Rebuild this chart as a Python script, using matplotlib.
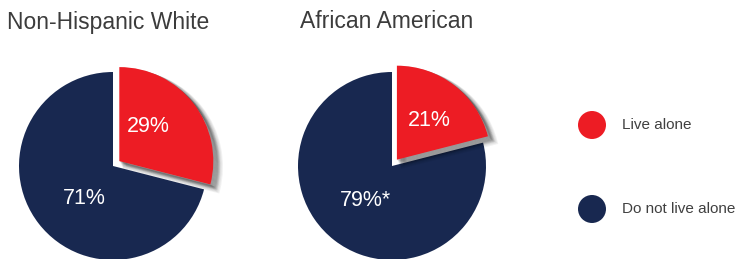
import matplotlib
matplotlib.use('Agg')
from matplotlib import pyplot as plt
from matplotlib.patches import Shadow, Circle

groups = ['Non-Hispanic White', 'African American']
live_alone = [29, 21]
not_alone = [71, 79]
pct_labels = [['29%', '71%'], ['21%', '79%*']]
legend_labels = ['Live alone', 'Do not live alone']

RED = '#ED1C24'
NAVY = '#182850'
W, H = 737, 259

fig = plt.figure(figsize=(W / 100, H / 100), dpi=100)
ax = fig.add_axes([0, 0, 1, 1])

centers = [(113, H - 166), (392, H - 166)]
radius = 94
# label offsets (dx, dy) from the pie centre, pixels
lab_off = [[(35, 40), (-29, -33)], [(37, 45), (-27, -34)]]

for i, g in enumerate(groups):
    cx, cy = centers[i]
    wedges, _ = ax.pie([live_alone[i], not_alone[i]], colors=[RED, NAVY],
                       startangle=90, counterclock=False, explode=[8, 0],
                       center=(cx, cy), radius=radius, frame=True,
                       wedgeprops=dict(linewidth=0))
    wedges[0].set_zorder(3)
    wedges[1].set_zorder(1)
    # soft shadow under the red slice (stacked, offset copies)
    for k in range(1, 10):
        sh = Shadow(wedges[0], 0.55 * k, -0.45 * k, facecolor='black',
                    edgecolor='black', linewidth=0.45 * k, alpha=0.05, zorder=2)
        ax.add_patch(sh)
    for j in range(2):
        dx, dy = lab_off[i][j]
        ax.text(cx + dx, cy + dy, pct_labels[i][j], color='white', fontsize=15.5,
                ha='center', va='center', family='Liberation Sans')
    ax.text([7, 300][i], H - 22, g, color='#3c3c3c', fontsize=16.5,
            ha='left', va='center', family='Liberation Sans')

ax.set_xlim(0, W)
ax.set_ylim(0, H)
ax.set_aspect('equal')
ax.axis('off')

for j, (lab, col) in enumerate(zip(legend_labels, [RED, NAVY])):
    y = H - [125, 209][j]
    ax.add_patch(Circle((592, y), 14, color=col, linewidth=0))
    ax.text(622, y, lab, color='#404040', fontsize=11, ha='left', va='center',
            family='Liberation Sans')

fig.savefig('out.png', dpi=100)
